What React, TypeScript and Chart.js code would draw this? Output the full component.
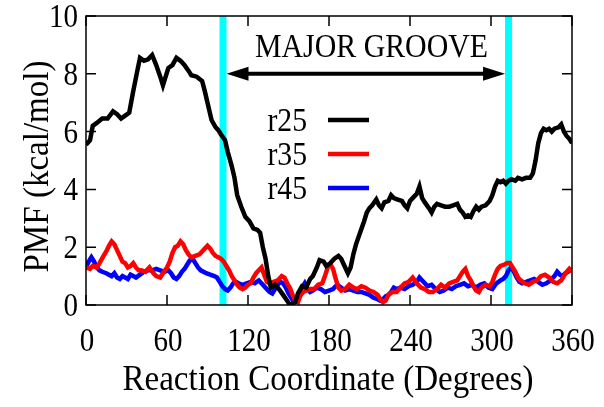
import React, { useEffect, useRef } from "react";
import { Chart, registerables } from "chart.js";

Chart.register(...registerables);

const FONT = '"Liberation Serif", "Times New Roman", serif';

// ---- data (degrees, PMF kcal/mol) ----
const r25Deg = [0,3,5,8,12,16,20,23,26,29,32,35,38,40,43,46,49,52,55,57,59,61,64,67,70,73,76,78,82,86,88,90,93,96,98,100,103,105,108,110,112,115,118,121,124,127,129,131,133,135,137,140,143,146,149,151,153,155,157,160,163,166,168,171,173,176,178,181,184,187,189,192,194,196,198,200,203,206,208,210,212,215,217,219,221,224,226,228,231,234,236,238,240,243,245,247,249,251,254,256,258,260,263,266,269,272,275,277,279,281,283,285,287,289,291,293,296,299,301,303,305,307,309,311,313,315,318,320,323,326,329,331,333,335,337,339,341,343,345,347,350,352,354,356,358,360];
const r25Pmf = [5.55,5.7,6.2,6.3,6.45,6.45,6.7,6.6,6.45,6.55,6.65,7.4,8.1,8.55,8.45,8.5,8.65,8.3,7.9,7.6,7.9,8.2,8.3,8.55,8.45,8.3,8.1,7.95,7.9,7.75,7.4,7.0,6.4,6.15,6.05,5.9,5.7,5.3,4.8,4.4,3.8,3.4,3.05,2.9,2.65,2.6,2.5,2.0,1.6,1.0,0.6,0.7,0.55,0.35,0.15,0.0,0.05,0.1,0.4,0.65,0.6,0.9,1.0,1.3,1.55,1.5,1.35,1.45,1.6,1.7,1.6,1.3,1.1,1.3,1.75,2.1,2.5,2.9,3.2,3.35,3.45,3.65,3.45,3.35,3.55,3.6,3.8,3.7,3.65,3.6,3.45,3.35,3.6,3.75,3.85,4.1,3.7,3.55,3.35,3.2,3.4,3.5,3.45,3.4,3.4,3.45,3.5,3.3,3.2,3.05,3.1,3.05,3.25,3.4,3.3,3.4,3.45,3.6,3.8,4.1,4.3,4.25,4.3,4.2,4.3,4.35,4.3,4.4,4.35,4.4,4.4,4.55,5.0,5.6,5.95,6.1,6.05,6.1,6.0,6.1,6.15,6.25,6.0,5.85,5.75,5.6];

const r35Deg = [0,3,5,8,10,13,15,17,19,21,23,25,27,29,31,33,35,37,39,41,44,47,50,52,55,57,60,62,64,66,68,70,72,74,76,78,81,84,86,88,90,92,94,96,98,100,102,104,106,108,110,112,114,116,118,120,122,124,126,128,130,132,134,136,139,142,145,147,149,151,153,155,157,159,161,163,166,169,172,175,177,179,181,183,185,187,189,192,195,198,201,204,207,210,213,216,218,220,222,224,227,230,233,236,239,242,245,248,251,254,257,260,263,266,269,272,275,277,279,281,283,285,287,289,291,293,296,299,301,303,305,307,310,312,314,316,318,320,322,325,328,331,334,337,340,343,346,349,352,354,356,358,360];
const r35Pmf = [1.3,1.25,1.35,1.3,1.45,1.7,1.85,2.05,2.2,2.1,1.9,1.7,1.5,1.45,1.3,1.35,1.45,1.3,1.2,1.2,1.15,1.3,1.1,1.0,0.95,1.1,1.3,1.5,1.8,2.0,2.05,2.2,2.1,1.9,1.75,1.65,1.7,1.75,1.85,1.95,2.05,1.95,1.8,1.7,1.65,1.6,1.5,1.35,1.2,1.0,0.85,0.7,0.6,0.55,0.6,0.7,0.75,0.95,1.1,1.2,1.3,1.05,0.8,0.75,0.8,0.85,1.0,0.95,0.75,0.6,0.35,0.15,0.1,0.35,0.45,0.5,0.55,0.55,0.7,0.75,1.0,1.3,1.4,1.25,0.9,0.6,0.5,0.55,0.7,0.6,0.55,0.65,0.6,0.5,0.45,0.35,0.2,0.1,0.15,0.35,0.45,0.45,0.6,0.75,0.8,0.95,0.75,0.6,0.55,0.45,0.45,0.55,0.7,0.6,0.75,0.8,0.85,1.0,1.15,1.25,1.0,0.85,0.65,0.5,0.45,0.6,0.7,0.65,0.8,1.05,1.25,1.35,1.4,1.45,1.45,1.3,1.15,0.95,0.85,0.75,0.7,0.8,0.85,1.0,1.05,0.95,0.8,0.75,0.85,1.0,1.15,1.25,1.15];

const r45Deg = [0,2,4,6,8,10,12,15,17,19,21,23,25,27,29,31,33,35,37,40,43,46,49,52,55,58,61,63,65,67,69,71,73,75,77,79,81,83,85,87,89,92,95,97,99,101,103,105,107,109,111,113,116,119,122,125,128,131,134,136,138,140,142,144,146,148,150,152,154,156,158,160,162,164,166,168,171,174,177,180,183,186,189,192,195,198,201,204,207,210,213,216,218,220,222,224,226,228,230,233,236,239,242,245,247,249,251,253,256,259,262,265,268,271,274,277,280,283,286,289,292,295,298,301,304,307,309,311,313,315,317,319,321,323,326,329,332,335,338,341,344,347,349,351,353,355,357,360];
const r45Pmf = [1.3,1.5,1.65,1.5,1.3,1.2,1.15,1.1,1.05,1.0,1.1,0.95,0.9,1.0,0.95,0.9,1.05,1.0,0.95,1.05,1.15,1.2,1.2,1.25,1.2,1.15,1.2,1.1,0.95,0.9,1.0,1.15,1.25,1.4,1.55,1.6,1.45,1.3,1.2,1.15,1.1,1.05,1.0,0.95,0.8,0.65,0.55,0.5,0.6,0.75,0.8,0.75,0.7,0.75,0.8,0.75,0.85,0.7,0.55,0.45,0.4,0.55,0.7,0.8,0.75,0.6,0.4,0.25,0.1,0.2,0.45,0.6,0.75,0.55,0.45,0.5,0.6,0.55,0.45,0.5,0.55,0.7,0.6,0.5,0.55,0.5,0.45,0.45,0.4,0.35,0.25,0.2,0.15,0.2,0.3,0.35,0.45,0.6,0.55,0.6,0.55,0.65,0.7,0.8,0.95,0.85,0.75,0.65,0.7,0.55,0.45,0.5,0.6,0.55,0.65,0.7,0.75,0.65,0.7,0.6,0.7,0.75,0.6,0.55,0.75,0.85,0.9,1.0,1.2,1.3,1.15,0.95,0.8,0.75,0.8,0.85,0.9,0.8,0.7,0.75,0.85,1.0,1.15,1.05,1.0,1.1,1.15,1.25];

const seriesNames = ["r25", "r35", "r45"];
const seriesColors = ["#000000", "#ff0000", "#0000ff"];
const xTicks = [0, 60, 120, 180, 240, 300, 360];
const yTicks = [0, 2, 4, 6, 8, 10];
const grooveBounds = [101.5, 313];
const grooveArrowY = 8.0;
const grooveLabel = "MAJOR GROOVE";
const xTitle = "Reaction Coordinate (Degrees)";
const yTitle = "PMF (kcal/mol)";

const toPoints = (xs: number[], ys: number[]) => xs.map((x, i) => ({ x, y: ys[i] }));

// draw horizontally condensed text (the reference type is narrow)
function drawText(
  ctx: CanvasRenderingContext2D,
  text: string,
  x: number,
  y: number,
  size: number,
  align: CanvasTextAlign,
  sx: number,
  rot = 0
) {
  ctx.save();
  ctx.translate(x, y);
  if (rot) ctx.rotate(rot);
  ctx.scale(sx, 1);
  ctx.font = `${size}px ${FONT}`;
  ctx.textAlign = align;
  ctx.textBaseline = "alphabetic";
  ctx.fillStyle = "#000";
  ctx.fillText(text, 0, 0);
  ctx.restore();
}

const decorPlugin = {
  id: "decor",
  beforeDatasetsDraw(chart: any) {
    const { ctx, chartArea, scales } = chart;
    ctx.save();
    ctx.strokeStyle = "#00ffff";
    ctx.lineWidth = 7;
    for (const b of grooveBounds) {
      const px = scales.x.getPixelForValue(b);
      ctx.beginPath();
      ctx.moveTo(px, chartArea.top);
      ctx.lineTo(px, chartArea.bottom);
      ctx.stroke();
    }
    ctx.restore();
  },
  afterDraw(chart: any) {
    const { ctx, chartArea, scales } = chart;
    const { left, right, top, bottom } = chartArea;
    ctx.save();
    // border
    ctx.strokeStyle = "#000";
    ctx.lineWidth = 1.5;
    ctx.strokeRect(left, top, right - left, bottom - top);
    // inner ticks
    const tl = 10;
    ctx.beginPath();
    for (const t of xTicks) {
      const px = scales.x.getPixelForValue(t);
      ctx.moveTo(px, bottom);
      ctx.lineTo(px, bottom - tl);
      ctx.moveTo(px, top);
      ctx.lineTo(px, top + tl);
    }
    for (const t of yTicks) {
      const py = scales.y.getPixelForValue(t);
      ctx.moveTo(left, py);
      ctx.lineTo(left + tl, py);
      ctx.moveTo(right, py);
      ctx.lineTo(right - tl, py);
    }
    ctx.stroke();

    // tick labels
    for (const t of xTicks) {
      const px = scales.x.getPixelForValue(t);
      drawText(ctx, String(t), px + 1, bottom + 46, 33, "center", 0.88);
    }
    for (const t of yTicks) {
      const py = scales.y.getPixelForValue(t);
      drawText(ctx, String(t), left - 8, py + 11, 33, "right", 0.88);
    }

    // axis titles
    ctx.font = `35px ${FONT}`;
    const tw = ctx.measureText(xTitle).width;
    const tsx = 411 / tw;
    drawText(ctx, xTitle, (left + right) / 2 - 1, 390, 35, "center", tsx);
    drawText(ctx, yTitle, 48, (top + bottom) / 2 + 6, 35, "center", tsx, -Math.PI / 2);

    // arrow
    const x1 = scales.x.getPixelForValue(grooveBounds[0]) + 3.5;
    const x2 = scales.x.getPixelForValue(grooveBounds[1]) - 3.5;
    const ay = scales.y.getPixelForValue(grooveArrowY);
    const hl = 22, hw = 7;
    ctx.strokeStyle = "#000";
    ctx.lineWidth = 4;
    ctx.beginPath();
    ctx.moveTo(x1 + hl - 2, ay);
    ctx.lineTo(x2 - hl + 2, ay);
    ctx.stroke();
    ctx.fillStyle = "#000";
    ctx.beginPath();
    ctx.moveTo(x1, ay);
    ctx.lineTo(x1 + hl, ay - hw);
    ctx.lineTo(x1 + hl, ay + hw);
    ctx.closePath();
    ctx.fill();
    ctx.beginPath();
    ctx.moveTo(x2, ay);
    ctx.lineTo(x2 - hl, ay - hw);
    ctx.lineTo(x2 - hl, ay + hw);
    ctx.closePath();
    ctx.fill();

    // label
    ctx.font = `33px ${FONT}`;
    const gw = ctx.measureText(grooveLabel).width;
    drawText(ctx, grooveLabel, 255, 57, 33, "left", 233 / gw);

    // legend
    const ly0 = 120, ldy = 34;
    for (let i = 0; i < seriesNames.length; i++) {
      const y = ly0 + i * ldy;
      drawText(ctx, seriesNames[i], 307, y + 11, 33, "right", 0.9);
      ctx.strokeStyle = seriesColors[i];
      ctx.lineWidth = 4.5;
      ctx.beginPath();
      ctx.moveTo(328, y);
      ctx.lineTo(369, y);
      ctx.stroke();
    }
    ctx.restore();
  },
};

export default function App() {
  const ref = useRef<HTMLCanvasElement>(null);
  useEffect(() => {
    const allDeg = [r25Deg, r35Deg, r45Deg];
    const allPmf = [r25Pmf, r35Pmf, r45Pmf];
    const chart = new Chart(ref.current!, {
      type: "line",
      data: {
        datasets: seriesNames.map((n, i) => ({
          label: n,
          data: toPoints(allDeg[i], allPmf[i]),
          borderColor: seriesColors[i],
          borderWidth: 4.5,
          pointRadius: 0,
          tension: 0,
          fill: false,
          borderJoinStyle: "miter" as const,
        })),
      },
      options: {
        responsive: false,
        animation: false,
        layout: { padding: { left: 0, right: 32, top: 16, bottom: 0 } },
        plugins: { legend: { display: false }, tooltip: { enabled: false } },
        scales: {
          x: {
            type: "linear",
            min: 0,
            max: 360,
            afterBuildTicks: (s: any) => { s.ticks = xTicks.map((v) => ({ value: v })); },
            afterFit: (s: any) => { s.height = 102; },
            ticks: { display: false },
            grid: { display: false, drawTicks: false },
            border: { display: false },
            title: { display: false, text: xTitle },
          },
          y: {
            type: "linear",
            min: 0,
            max: 10,
            afterBuildTicks: (s: any) => { s.ticks = yTicks.map((v) => ({ value: v })); },
            afterFit: (s: any) => { s.width = 86; },
            ticks: { display: false },
            grid: { display: false, drawTicks: false },
            border: { display: false },
            title: { display: false, text: yTitle },
          },
        },
      },
      plugins: [decorPlugin],
    });
    return () => chart.destroy();
  }, []);
  return (
    <div style={{ position: "fixed", left: 0, top: 0, width: 604, height: 407, background: "#fff" }}>
      <canvas ref={ref} width={604} height={407} style={{ width: 604, height: 407, display: "block" }} />
    </div>
  );
}
